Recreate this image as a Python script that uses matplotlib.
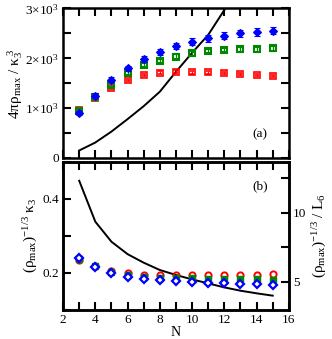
import matplotlib
matplotlib.use("Agg")
import matplotlib.pyplot as plt
from matplotlib.ticker import MultipleLocator, FixedLocator, FixedFormatter

plt.rcParams['font.family'] = ['Liberation Serif', 'DejaVu Serif']
plt.rcParams['mathtext.fontset'] = 'custom'
plt.rcParams['mathtext.rm'] = 'Liberation Serif'
plt.rcParams['mathtext.it'] = 'Liberation Serif:italic'

N = [3, 4, 5, 6, 7, 8, 9, 10, 11, 12, 13, 14, 15]

# top panel: 4 pi rho_max / kappa_3^3
top_red = [966, 1195, 1400, 1566, 1666, 1712, 1733, 1720, 1720, 1706, 1686, 1666, 1646]
top_green = [940, 1225, 1466, 1700, 1866, 1952, 2033, 2100, 2146, 2166, 2180, 2180, 2200]
top_blue = [912, 1250, 1566, 1800, 1980, 2120, 2246, 2333, 2400, 2453, 2500, 2526, 2553]
err_red = [25, 25, 25, 25, 25, 25, 25, 25, 25, 25, 25, 25, 25]
err_green = [35, 35, 35, 40, 40, 40, 45, 45, 45, 45, 45, 45, 45]
err_blue = [40, 45, 50, 55, 60, 60, 65, 65, 70, 70, 70, 75, 75]
N_line_top = [3, 4, 5, 6, 7, 8, 9, 10, 11, 12, 13]
line_top = [150, 310, 530, 780, 1040, 1330, 1730, 2110, 2470, 2970, 3450]

# bottom panel: (rho_max)^(-1/3) kappa_3  and  (rho_max)^(-1/3) / L_6
bot_red = [0.234, 0.220, 0.206, 0.200, 0.195, 0.194, 0.1935, 0.1935, 0.194, 0.194, 0.195, 0.195, 0.196]
bot_green = [0.237, 0.218, 0.203, 0.195, 0.190, 0.187, 0.185, 0.185, 0.184, 0.184, 0.183, 0.183, 0.182]
bot_blue = [0.240, 0.215, 0.200, 0.189, 0.184, 0.180, 0.1775, 0.176, 0.174, 0.173, 0.171, 0.170, 0.1685]
line_bot = [12.32, 9.35, 7.9, 7.0, 6.38, 5.85, 5.49, 5.17, 4.88, 4.59, 4.35, 4.16, 3.99]

fig = plt.figure(figsize=(3.32, 3.39), dpi=100)
ax1 = fig.add_axes([0.19, 0.534, 0.68, 0.441])
ax2 = fig.add_axes([0.19, 0.0855, 0.68, 0.4375])

red = '#ff0000'
green = '#008800'
blue = '#0000ff'
FS = 9.5
LFS = 11

def style(ax):
    for s in ax.spines.values():
        s.set_linewidth(1.8)
    ax.tick_params(which='both', direction='in', top=True, right=True, width=1.5, labelsize=FS, pad=3)
    ax.tick_params(which='major', length=6)
    ax.tick_params(which='minor', length=6)
    ax.set_xlim(2, 16)
    ax.xaxis.set_major_locator(MultipleLocator(2))
    ax.xaxis.set_minor_locator(MultipleLocator(1))

# top
ax1.plot(N_line_top, line_top, color='black', lw=1.4, zorder=1)
ax1.errorbar(N, top_red, yerr=err_red, fmt='s', color=red, mfc='none', mec=red, ms=4, mew=1.2,
             elinewidth=0.9, capsize=1.2, zorder=3)
ax1.errorbar(N, top_green, yerr=err_green, fmt='s', color=green, mfc='none', mec=green, ms=4.2, mew=1.5,
             elinewidth=0.9, capsize=1.5, zorder=3)
ax1.errorbar(N, top_blue, yerr=err_blue, fmt='D', color=blue, mfc=blue, mec=blue, ms=4, mew=0.8,
             elinewidth=1.1, capsize=2.2, zorder=4)
style(ax1)
ax1.set_ylim(0, 3000)
ax1.yaxis.set_major_locator(FixedLocator([0, 1000, 2000, 3000]))
ax1.yaxis.set_major_formatter(FixedFormatter(['0', r'$\mathrm{1{\times}10^3}$', r'$\mathrm{2{\times}10^3}$', r'$\mathrm{3{\times}10^3}$']))
ax1.yaxis.set_minor_locator(MultipleLocator(500))
ax1.tick_params(labelbottom=False)
ax1.set_ylabel(r'$\mathrm{4\pi\rho_{max}\ /\ \kappa_3^{\ 3}}$', fontsize=LFS, labelpad=0)
ax1.text(14.2, 470, '(a)', fontsize=FS, ha='center', va='center')

# bottom
ax2.plot(N, bot_red, 'o', color=red, mfc='none', mec=red, ms=4.5, mew=1.4, zorder=3)
ax2.plot(N, bot_green, 's', color=green, mfc=green, mec=green, ms=4, mew=1.0, zorder=3)
ax2.plot(N, bot_blue, 'D', color=blue, mfc='white', mec=blue, ms=4, mew=1.6, zorder=4)
style(ax2)
ax2.set_ylim(0.1, 0.5)
ax2.yaxis.set_major_locator(FixedLocator([0.2, 0.4]))
ax2.yaxis.set_minor_locator(FixedLocator([0.1, 0.3, 0.5]))
ax2.tick_params(right=False, which='both')
ax2.set_ylabel(r'$\mathrm{(\rho_{max})^{-1/3}\ \kappa_3}$', fontsize=LFS, labelpad=2)
ax2.set_xlabel('N', fontsize=FS + 0.5, labelpad=0)
ax2.text(14.2, 0.435, '(b)', fontsize=FS, ha='center', va='center')

ax3 = ax2.twinx()
ax3.plot(N, line_bot, color='black', lw=1.4, zorder=1)
ax3.set_ylim(2.95, 13.7)
ax3.yaxis.set_major_locator(FixedLocator([5, 10]))
ax3.yaxis.set_minor_locator(FixedLocator([7.5, 12.5]))
ax3.tick_params(which='both', direction='in', width=1.5, length=6, labelsize=FS, pad=3)
for s in ax3.spines.values():
    s.set_linewidth(1.8)
ax3.set_ylabel(r'$\mathrm{(\rho_{max})^{-1/3}\ /\ L_6}$', fontsize=LFS, labelpad=3, rotation=90)
ax2.set_zorder(ax3.get_zorder() + 1)
ax2.patch.set_visible(False)

fig.savefig('out.png', dpi=100)
